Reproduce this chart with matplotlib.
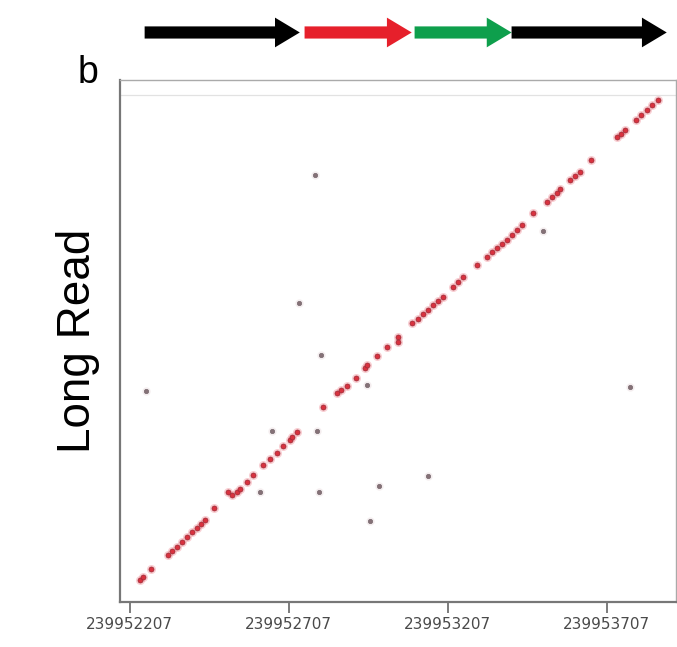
import matplotlib
matplotlib.use("Agg")
import matplotlib.pyplot as plt
from matplotlib.patches import FancyArrow
from matplotlib.ticker import FixedLocator, FixedFormatter

# reference start (bp); positions below are offsets from it
ref_start = 239952207

# dot plot: reference position vs position in the long read
diag_ref = [31, 41, 66, 119, 132, 148, 164, 179, 195, 211, 223, 236, 264, 308, 321, 336, 346,
            368, 387, 418, 440, 462, 481, 503, 509, 525, 607, 651, 664, 682, 711, 739, 745,
            777, 808, 843, 843, 887, 906, 921, 937, 953, 969, 984, 1016, 1031, 1047, 1091,
            1123, 1138, 1154, 1170, 1186, 1201, 1217, 1233, 1267, 1311, 1327, 1343, 1352,
            1384, 1399, 1415, 1450, 1531, 1544, 1557, 1591, 1607, 1626, 1642, 1660]
diag_read = [69, 79, 104, 148, 160, 173, 189, 204, 220, 233, 245, 258, 296, 346, 336, 346, 355,
             377, 399, 431, 450, 469, 491, 509, 519, 535, 613, 657, 667, 679, 704, 736, 745,
             774, 802, 833, 818, 877, 890, 906, 918, 934, 947, 959, 991, 1006, 1022, 1060,
             1085, 1101, 1113, 1126, 1138, 1154, 1170, 1186, 1223, 1258, 1274, 1286, 1299,
             1327, 1340, 1352, 1390, 1462, 1472, 1484, 1516, 1531, 1547, 1563, 1579]

off_ref = [582, 531, 601, 50, 1572, 1299, 447, 588, 745, 409, 594, 783, 755, 937]
off_read = [1343, 940, 777, 664, 676, 1167, 538, 538, 682, 346, 346, 365, 255, 396]

tick_offsets = [0, 500, 1000, 1500]
tick_labels = [str(ref_start + t) for t in tick_offsets]

# gene track above the plot (start, end offsets) and colours
gene_start = [47, 550, 896, 1201]
gene_end = [535, 887, 1201, 1689]
gene_colors = ["black", "#e6202b", "#0e9f4c", "black"]

fig = plt.figure(figsize=(6.77, 6.47), dpi=100)
ax = fig.add_axes([0.177, 0.0696, 0.821, 0.8068])

# dots with a soft halo
ax.plot(diag_ref, diag_read, "o", ms=6.5, color="#f3a0a8", alpha=0.5, mew=0, zorder=2)
ax.plot(diag_ref, diag_read, "o", ms=3.6, mfc="#d8323f", mec="#9a2a36", mew=0.5, zorder=3)
ax.plot(off_ref, off_read, "o", ms=6, color="#eadde0", alpha=0.5, mew=0, zorder=2)
ax.plot(off_ref, off_read, "o", ms=3.2, mfc="#857177", mec="#6e6064", mew=0.4, zorder=3)

ax.axhline(1594, color="#e2e2e2", lw=0.9)

ax.set_xlim(-31, 1717)
ax.set_ylim(0, 1641)
ax.xaxis.set_major_locator(FixedLocator(tick_offsets))
ax.xaxis.set_major_formatter(FixedFormatter(tick_labels))
ax.set_yticks([])
ax.tick_params(axis="x", length=8, width=1.2, color="#666666", labelsize=11,
               labelcolor="#4a4a4a", pad=3)

for s in ["left", "bottom"]:
    ax.spines[s].set_color("#777777")
    ax.spines[s].set_linewidth(1.6)
for s in ["top", "right"]:
    ax.spines[s].set_color("#aaaaaa")
    ax.spines[s].set_linewidth(1.0)

ax.set_ylabel("Long Read", fontsize=33, family="Liberation Sans", labelpad=14)

# gene arrows
gax = fig.add_axes([0.177, 0.915, 0.821, 0.0696])
gax.set_xlim(-31, 1717)
gax.set_ylim(0, 1)
gax.axis("off")
for a, b, c in zip(gene_start, gene_end, gene_colors):
    gax.add_patch(FancyArrow(a, 0.5, b - a, 0, width=0.27, head_width=0.66,
                             head_length=78, length_includes_head=True,
                             color=c, lw=0))

fig.text(0.115, 0.872, "b", fontsize=27, family="Liberation Sans", ha="left", va="baseline")

fig.savefig("out.png", dpi=100)
plt.close(fig)
